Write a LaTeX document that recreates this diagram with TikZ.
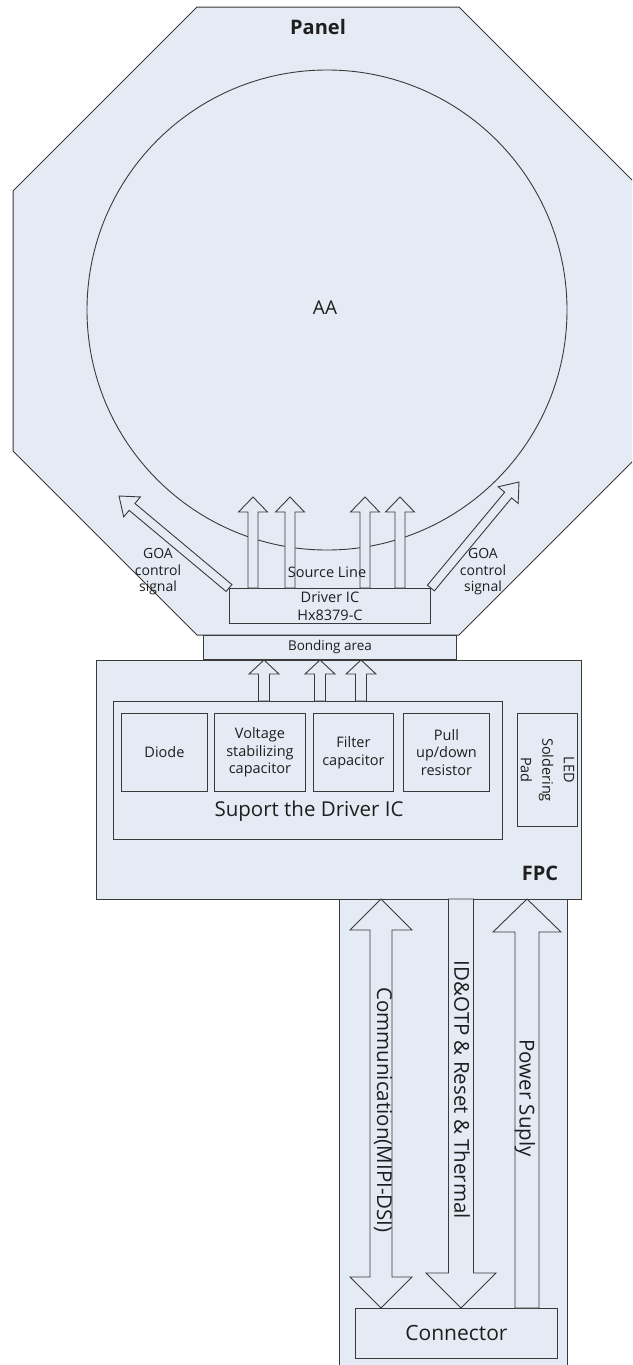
\documentclass[tikz,border=0pt]{standalone}
\usepackage{fontspec}
\setmainfont{Open Sans}
\usetikzlibrary{calc}
\definecolor{pfill}{HTML}{E5EBF4}
\definecolor{lcol}{HTML}{3A3A3A}
\definecolor{tcol}{HTML}{1E1E1E}
\newcommand{\fsz}[2]{\fontsize{#1}{#2}\selectfont}
% block arrow: #2 tail, #3 tip, #4 shaft half width, #5 head half width, #6 head length
\newcommand{\blockarrow}[6][]{%
  \path ($(#3)!#6!(#2)$) coordinate (ba-h);
  \draw[blk,#1] ($(#2)!#4!90:(#3)$) -- ($(ba-h)!#4!90:(#3)$) -- ($(ba-h)!#5!90:(#3)$) -- (#3)
    -- ($(ba-h)!#5!-90:(#3)$) -- ($(ba-h)!#4!-90:(#3)$) -- ($(#2)!#4!-90:(#3)$) -- cycle;
}
% double block arrow: #1 end A, #2 end B, #3 shaft half, #4 head half, #5 head length
\newcommand{\dblarrow}[5]{%
  \path ($(#1)!#5!(#2)$) coordinate (da-a) ($(#2)!#5!(#1)$) coordinate (da-b);
  \draw[blk] (#1) -- ($(da-a)!#4!90:(#2)$) -- ($(da-a)!#3!90:(#2)$) -- ($(da-b)!#3!-90:(#1)$)
    -- ($(da-b)!#4!-90:(#1)$) -- (#2) -- ($(da-b)!#4!90:(#1)$) -- ($(da-b)!#3!90:(#1)$)
    -- ($(da-a)!#3!-90:(#2)$) -- ($(da-a)!#4!-90:(#2)$) -- cycle;
}
\begin{document}
\begin{tikzpicture}[x=1pt,y=-1pt,
  box/.style={draw=lcol, line width=0.9pt, fill=pfill, inner sep=0pt, anchor=north west, text=tcol, align=center},
  blk/.style={draw=lcol, line width=0.9pt, fill=pfill, line join=miter},
  lbl/.style={text=tcol, inner sep=0pt, align=center},
]
\useasboundingbox (0,0) rectangle (632,1365);
\clip (0,0) rectangle (632,1365);
\fill[white] (0,0) rectangle (632,1365);

% Panel octagon
\draw[draw=lcol, line width=1pt, fill=pfill] (197,7) -- (459,7) -- (643,191) -- (643,451) -- (459,635) -- (197,635) -- (13,451) -- (13,191) -- cycle;
\node[lbl, font=\bfseries\fsz{20}{24}] (panel) at (318,27) {Panel};

% Active area
\node[circle, draw=lcol, line width=0.9pt, minimum size=480pt, inner sep=0pt] (aa) at (327,310) {};
\node[lbl, font=\fsz{19}{22}] (aatext) at (325,308) {AA};

% Driver IC
\node[box, minimum width=201pt, minimum height=35pt, font=\fsz{14.5}{18}] (drv) at (229,588) {Driver IC\\Hx8379-C};

% GOA arrows
\coordinate (goaL) at (119,496);
\coordinate (goaR) at (519,482);
\blockarrow{drv.north west}{goaL}{4.5pt}{13pt}{17pt}
\blockarrow{drv.north east}{goaR}{4.5pt}{13pt}{17pt}
\node[lbl, font=\fsz{14}{16.5}] (goaLt) at (158,572) {GOA\\control\\signal};
\node[lbl, font=\fsz{14}{16.5}] (goaRt) at (483,572) {GOA\\control\\signal};

% Source line arrows
\foreach \i/\x in {1/253,2/290,3/365,4/400}{
  \coordinate (st\i) at (\x,588);
  \coordinate (sh\i) at (\x,497);
  \blockarrow{st\i}{sh\i}{5pt}{14.5pt}{15pt}
}
\node[lbl, font=\fsz{14.5}{17}] (src) at (327,572) {Source Line};

% lower strip
\draw[draw=lcol, line width=0.9pt, fill=pfill] (339,899) rectangle (567,1375);

% FPC
\node[box, minimum width=485pt, minimum height=239pt] (fpc) at (96,660) {};
\node[lbl, font=\bfseries\fsz{20}{24}] (fpct) at (540,873) {FPC};

% Bonding area
\node[box, minimum width=253pt, minimum height=24pt, font=\fsz{13.5}{16}] (bond) at (203,635) {Bonding area};

% Support box
\node[box, minimum width=389pt, minimum height=138pt] (sup) at (113,701) {};
\node[lbl, font=\fsz{20.5}{24}] (supt) at (309,811) {Suport the Driver IC};

\node[box, minimum width=86pt, minimum height=78pt, font=\fsz{14.5}{17.6}] (diode) at (121,713) {Diode};
\node[box, minimum width=91pt, minimum height=78pt, font=\fsz{14.5}{17.6}] (vcap) at (214,713) {Voltage\\stabilizing\\capacitor};
\node[box, minimum width=80pt, minimum height=78pt, font=\fsz{14.5}{17.6}] (fcap) at (313,713) {Filter\\capacitor};
\node[box, minimum width=86pt, minimum height=78pt, font=\fsz{14.5}{17.6}] (pull) at (403,713) {Pull\\up/down\\resistor};

\node[box, minimum width=60pt, minimum height=113pt] (led) at (517,713) {};
\node[lbl, rotate=-90, font=\fsz{14.5}{21.5}] (ledt) at (led.center) {LED\\Soldering\\Pad};

% FPC arrows to bonding area
\foreach \i/\x in {1/264,2/320,3/361}{
  \coordinate (ft\i) at (\x,701);
  \coordinate (fh\i) at (\x,660);
  \blockarrow{ft\i}{fh\i}{5.5pt}{15pt}{14pt}
}

% Connector
\node[box, minimum width=202pt, minimum height=50pt, font=\fsz{21}{24}] (conn) at (355,1308) {Connector};

% lower arrows
\coordinate (comA) at (381,899);
\coordinate (comB) at (381,1308);
\dblarrow{comA}{comB}{11pt}{31pt}{31pt}
\coordinate (idA) at (461,899);
\coordinate (idB) at (461,1308);
\blockarrow{idA}{idB}{12.5pt}{35pt}{35pt}
\coordinate (pwA) at (527,1308);
\coordinate (pwB) at (527,899);
\blockarrow{pwA}{pwB}{12pt}{34pt}{33pt}

\node[lbl, rotate=-90, font=\fsz{20.5}{24}] (comt) at (383,1110) {Communication(MIPI-DSI)};
\node[lbl, rotate=-90, font=\fsz{20.5}{24}] (idt) at (462,1090) {ID\&OTP \& Reset \& Thermal};
\node[lbl, rotate=-90, font=\fsz{20.5}{24}] (pwt) at (525,1098) {Power Suply};
\end{tikzpicture}
\end{document}
